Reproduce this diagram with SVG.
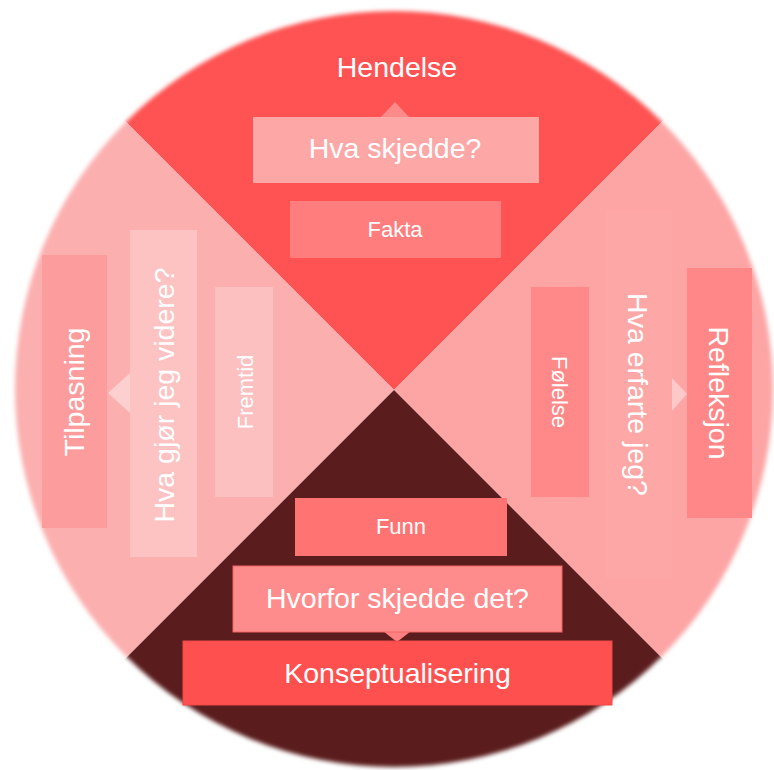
<svg xmlns="http://www.w3.org/2000/svg" width="774" height="770" viewBox="0 0 774 770">
  <style>
    text { font-family: "Liberation Sans", Arial, sans-serif; fill: #ffffff; text-anchor: middle; }
    .big { font-size: 28.5px; }
    .small { font-size: 22px; }
  </style>
  <defs>
    <filter id="soft" x="-10%" y="-10%" width="120%" height="120%">
      <feGaussianBlur stdDeviation="2"/>
    </filter>
    <mask id="disc" maskUnits="userSpaceOnUse" x="0" y="0" width="774" height="770">
      <ellipse cx="394" cy="389" rx="379" ry="378" fill="#ffffff" filter="url(#soft)"/>
    </mask>
  </defs>

  <g id="background" mask="url(#disc)">
    <polygon points="394,390 -20,-24 808,-24" fill="#FF5252"/>
    <polygon points="394,390 -20,-24 -20,804" fill="#FCAFAF"/>
    <polygon points="394,390 808,-24 808,804" fill="#FDA5A5"/>
    <polygon points="394,390 -20,804 808,804" fill="#5A1C1C"/>
  </g>

  <g id="connectors">
    <polygon points="395,102 381,117 409,117" fill="#FF8A8A"/>
    <polygon points="108,393 130,373 130,413" fill="#FDCFCF"/>
    <polygon points="687,394 671,377 671,412" fill="#FDC8C8"/>
    <polygon points="397,642 383,631 411,631" fill="#FF8080"/>
  </g>

  <g id="hendelse">
    <text class="big" x="397" y="77">Hendelse</text>
  </g>
  <g id="hva-skjedde">
    <rect x="253" y="117" width="286" height="66" fill="#FDA7A7"/>
    <text class="big" x="395" y="158">Hva skjedde?</text>
  </g>
  <g id="fakta">
    <rect x="290" y="201" width="211" height="57" fill="#FF7D7D"/>
    <text class="small" x="395" y="237">Fakta</text>
  </g>

  <g id="tilpasning">
    <rect x="42" y="255" width="65" height="273" fill="#FC9C9C"/>
    <text class="big" transform="translate(84,392) rotate(-90)">Tilpasning</text>
  </g>
  <g id="hva-gjor">
    <rect x="130" y="230" width="67" height="327" fill="#FDC3C3"/>
    <text class="big" transform="translate(174,395) rotate(-90)">Hva gjør jeg videre?</text>
  </g>
  <g id="fremtid">
    <rect x="215" y="287" width="58" height="210" fill="#FDC0C0"/>
    <text class="small" transform="translate(253,392) rotate(-90)">Fremtid</text>
  </g>

  <g id="folelse">
    <rect x="531" y="287" width="58" height="210" fill="#FF8888"/>
    <text class="small" transform="translate(552,392) rotate(90)">Følelse</text>
  </g>
  <g id="hva-erfarte">
    <rect x="606" y="210" width="66" height="368" fill="#FDA7A7"/>
    <text class="big" transform="translate(628,394.5) rotate(90)">Hva erfarte jeg?</text>
  </g>
  <g id="refleksjon">
    <rect x="687" y="268" width="65" height="250" fill="#FF8787"/>
    <text class="big" transform="translate(709,393) rotate(90)">Refleksjon</text>
  </g>

  <g id="funn">
    <rect x="295" y="498" width="212" height="58" fill="#FF7373"/>
    <text class="small" x="401" y="534">Funn</text>
  </g>
  <g id="hvorfor">
    <rect x="233" y="566" width="329" height="66" fill="#FF8C8C" stroke="#F26464" stroke-width="1"/>
    <text class="big" x="397.5" y="608">Hvorfor skjedde det?</text>
  </g>
  <g id="konseptualisering">
    <rect x="183" y="641" width="429" height="64" fill="#FF5050" stroke="#F04848" stroke-width="1"/>
    <text class="big" x="397.5" y="683">Konseptualisering</text>
  </g>
</svg>
